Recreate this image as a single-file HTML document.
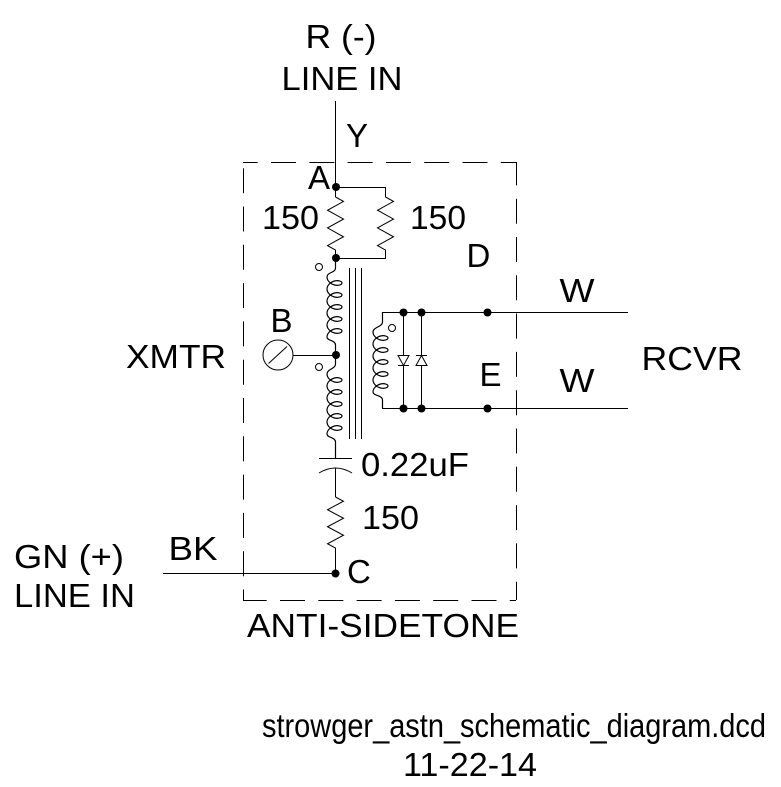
<!DOCTYPE html>
<html>
<head>
<meta charset="utf-8">
<style>
html,body{margin:0;padding:0;background:#fff;}
svg{display:block;}
text{font-family:"Liberation Sans",Arial,sans-serif;font-size:33px;fill:#000;}
</style>
</head>
<body>
<svg width="781" height="787" viewBox="0 0 781 787" xmlns="http://www.w3.org/2000/svg">
<rect width="781" height="787" fill="#fff"/>

<!-- dashed box -->
<g stroke="#000" stroke-width="1" fill="none" stroke-dasharray="25 13.3">
  <line x1="243" y1="162.5" x2="516" y2="162.5" stroke-dashoffset="10.3"/>
  <line x1="516.5" y1="162" x2="516.5" y2="600" stroke-dashoffset="1.6"/>
  <line x1="243.5" y1="162" x2="243.5" y2="600" stroke-dashoffset="32.1"/>
  <line x1="243" y1="600.5" x2="516" y2="600.5" stroke-dashoffset="1.3"/>
</g>

<g stroke="#000" stroke-width="1" fill="none">
  <!-- main line in -->
  <line x1="335.5" y1="101" x2="335.5" y2="197"/>
  <!-- parallel branch -->
  <polyline points="336,187.5 385.5,187.5 385.5,197"/>
  <polyline points="335.5,197 343.5,201.4 327.5,210.25 343.5,219.1 327.5,227.9 343.5,236.75 327.5,245.6 335.5,250 335.5,258"/>
  <polyline points="385.5,197 393.5,201.4 377.5,210.25 393.5,219.1 377.5,227.9 393.5,236.75 377.5,245.6 385.5,250 385.5,258.5 336,258.5"/>

  <!-- primary upper coil -->
  <path stroke-width="1.2" d="M335.5,257 V268 C335.5,273 327,272 327,277
   c 0,3.62 3.57,7 7.5,8 c 3.93,1 7.5,-0.38 7.5,-2 c 0,-1.62 -3.57,-3 -7.5,-2 c -3.93,1 -7.5,4.38 -7.5,8
   c 0,3.62 3.57,7 7.5,8 c 3.93,1 7.5,-0.38 7.5,-2 c 0,-1.62 -3.57,-3 -7.5,-2 c -3.93,1 -7.5,4.38 -7.5,8
   c 0,3.62 3.57,7 7.5,8 c 3.93,1 7.5,-0.38 7.5,-2 c 0,-1.62 -3.57,-3 -7.5,-2 c -3.93,1 -7.5,4.38 -7.5,8
   c 0,3.62 3.57,7 7.5,8 c 3.93,1 7.5,-0.38 7.5,-2 c 0,-1.62 -3.57,-3 -7.5,-2 c -3.93,1 -7.5,4.38 -7.5,8
   c 0,3.62 3.57,7 7.5,8 c 3.93,1 7.5,-0.38 7.5,-2 c 0,-1.62 -3.57,-3 -7.5,-2 c -3.93,1 -7.5,4.38 -7.5,8
   C327,341 335.5,340 335.5,345 V355"/>
  <!-- primary lower coil -->
  <path stroke-width="1.2" d="M335.5,355 V364 C335.5,369 327,369 327,374
   c 0,3.62 3.57,7 7.5,8 c 3.93,1 7.5,-0.38 7.5,-2 c 0,-1.62 -3.57,-3 -7.5,-2 c -3.93,1 -7.5,4.38 -7.5,8
   c 0,3.62 3.57,7 7.5,8 c 3.93,1 7.5,-0.38 7.5,-2 c 0,-1.62 -3.57,-3 -7.5,-2 c -3.93,1 -7.5,4.38 -7.5,8
   c 0,3.62 3.57,7 7.5,8 c 3.93,1 7.5,-0.38 7.5,-2 c 0,-1.62 -3.57,-3 -7.5,-2 c -3.93,1 -7.5,4.38 -7.5,8
   c 0,3.62 3.57,7 7.5,8 c 3.93,1 7.5,-0.38 7.5,-2 c 0,-1.62 -3.57,-3 -7.5,-2 c -3.93,1 -7.5,4.38 -7.5,8
   c 0,3.62 3.57,7 7.5,8 c 3.93,1 7.5,-0.38 7.5,-2 c 0,-1.62 -3.57,-3 -7.5,-2 c -3.93,1 -7.5,4.38 -7.5,8
   C327,438 335.5,437 335.5,442 V458.5"/>
  <!-- secondary coil -->
  <path stroke-width="1.2" d="M382.5,312 V322 C382.5,327 373,327 373,332
   c 0,3.62 3.57,7 7.5,8 c 3.93,1 7.5,-0.38 7.5,-2 c 0,-1.62 -3.57,-3 -7.5,-2 c -3.93,1 -7.5,4.38 -7.5,8
   c 0,3.62 3.57,7 7.5,8 c 3.93,1 7.5,-0.38 7.5,-2 c 0,-1.62 -3.57,-3 -7.5,-2 c -3.93,1 -7.5,4.38 -7.5,8
   c 0,3.62 3.57,7 7.5,8 c 3.93,1 7.5,-0.38 7.5,-2 c 0,-1.62 -3.57,-3 -7.5,-2 c -3.93,1 -7.5,4.38 -7.5,8
   c 0,3.62 3.57,7 7.5,8 c 3.93,1 7.5,-0.38 7.5,-2 c 0,-1.62 -3.57,-3 -7.5,-2 c -3.93,1 -7.5,4.38 -7.5,8
   c 0,3.62 3.57,7 7.5,8 c 3.93,1 7.5,-0.38 7.5,-2 c 0,-1.62 -3.57,-3 -7.5,-2 c -3.93,1 -7.5,4.38 -7.5,8
   C373,396 382.5,395 382.5,400 V408"/>

  <!-- core -->
  <line x1="349.5" y1="268" x2="349.5" y2="439"/>
  <line x1="355.5" y1="268" x2="355.5" y2="439"/>
  <line x1="361.5" y1="268" x2="361.5" y2="439"/>

  <!-- phase dots (small circles) -->
  <circle cx="319" cy="267" r="3.5"/>
  <circle cx="319" cy="367" r="3.5"/>
  <circle cx="392" cy="328" r="3.5"/>

  <!-- transmitter -->
  <circle cx="278" cy="355" r="15"/>
  <line x1="268.5" y1="363.5" x2="287" y2="346.5"/>
  <line x1="293" y1="355.5" x2="336" y2="355.5"/>

  <!-- receiver wires -->
  <line x1="382" y1="312.5" x2="628" y2="312.5"/>
  <line x1="382" y1="408.5" x2="628" y2="408.5"/>
  <line x1="403.5" y1="312" x2="403.5" y2="408"/>
  <line x1="421.5" y1="312" x2="421.5" y2="408"/>
  <!-- diodes -->
  <polygon points="398,355.5 409,355.5 403.5,365.5" fill="#fff"/>
  <line x1="398" y1="365.5" x2="409" y2="365.5"/>
  <polygon points="416,365.5 427,365.5 421.5,355.5" fill="#fff"/>
  <line x1="416" y1="355.5" x2="427" y2="355.5"/>

  <!-- capacitor -->
  <line x1="319" y1="458.5" x2="352" y2="458.5"/>
  <path d="M319,473 Q335.5,463 352,473"/>
  <line x1="335.5" y1="468" x2="335.5" y2="497"/>
  <!-- bottom resistor -->
  <polyline points="335.5,497 343.5,501.25 327.5,509.75 343.5,518.25 327.5,526.75 343.5,535.25 327.5,543.75 335.5,548 335.5,573"/>
  <!-- BK line -->
  <line x1="163" y1="573.5" x2="335" y2="573.5"/>
</g>

<!-- junction dots -->
<g fill="#000">
  <circle cx="336" cy="187" r="4"/>
  <circle cx="336" cy="258" r="4"/>
  <circle cx="336" cy="355" r="4"/>
  <circle cx="335.5" cy="573.5" r="4"/>
  <circle cx="403.5" cy="312.5" r="4"/>
  <circle cx="421.5" cy="312.5" r="4"/>
  <circle cx="487.5" cy="312.5" r="4"/>
  <circle cx="403.5" cy="408.5" r="4"/>
  <circle cx="421.5" cy="408.5" r="4"/>
  <circle cx="487.5" cy="408.5" r="4"/>
</g>

<!-- labels -->
<text x="305.5" y="48" textLength="71" lengthAdjust="spacingAndGlyphs">R (-)</text>
<text x="281.5" y="90" textLength="121" lengthAdjust="spacingAndGlyphs">LINE IN</text>
<text x="346" y="147">Y</text>
<text x="308" y="189">A</text>
<text x="262" y="229" textLength="57" lengthAdjust="spacingAndGlyphs">150</text>
<text x="410" y="229" textLength="56" lengthAdjust="spacingAndGlyphs">150</text>
<text x="466.5" y="267">D</text>
<text x="559.5" y="302" textLength="35" lengthAdjust="spacingAndGlyphs">W</text>
<text x="270.5" y="332">B</text>
<text x="126" y="368" textLength="100" lengthAdjust="spacingAndGlyphs">XMTR</text>
<text x="641.5" y="370" textLength="101" lengthAdjust="spacingAndGlyphs">RCVR</text>
<text x="479.5" y="386">E</text>
<text x="559.5" y="392" textLength="35" lengthAdjust="spacingAndGlyphs">W</text>
<text x="361" y="476" textLength="108" lengthAdjust="spacingAndGlyphs">0.22uF</text>
<text x="362" y="529" textLength="57" lengthAdjust="spacingAndGlyphs">150</text>
<text x="168.5" y="560" textLength="49" lengthAdjust="spacingAndGlyphs">BK</text>
<text x="347" y="583">C</text>
<text x="14" y="568" textLength="110" lengthAdjust="spacingAndGlyphs">GN (+)</text>
<text x="14" y="607" textLength="121" lengthAdjust="spacingAndGlyphs">LINE IN</text>
<text x="247" y="637" textLength="272" lengthAdjust="spacingAndGlyphs">ANTI-SIDETONE</text>
<text x="262" y="737" textLength="504" lengthAdjust="spacingAndGlyphs">strowger_astn_schematic_diagram.dcd</text>
<text x="403" y="776" textLength="134" lengthAdjust="spacingAndGlyphs">11-22-14</text>
</svg>
</body>
</html>
